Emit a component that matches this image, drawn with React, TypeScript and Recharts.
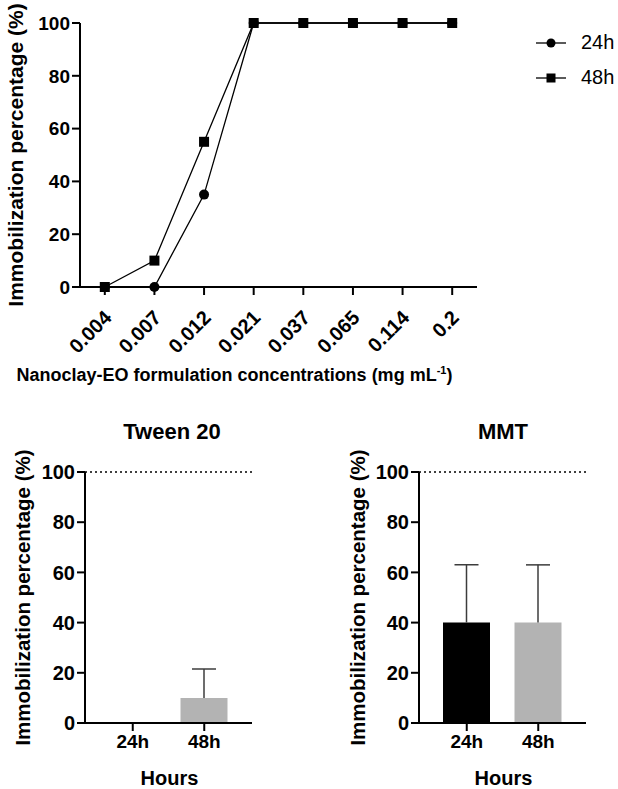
import React from 'react';
import {
  LineChart,
  Line,
  BarChart,
  Bar,
  XAxis,
  YAxis,
  Legend,
  ReferenceLine,
  Cell,
  Label,
} from 'recharts';

const FONT = '"Liberation Sans", Arial, Helvetica, sans-serif';
const INK = '#000000';
const GREY = '#b3b3b3';
const ERR = '#3c3c3c';

// top panel: immobilization vs. nanoclay-EO concentration
const concentrations = ['0.004', '0.007', '0.012', '0.021', '0.037', '0.065', '0.114', '0.2'];
const immob24h = [0, 0, 35, 100, 100, 100, 100, 100];
const immob48h = [0, 10, 55, 100, 100, 100, 100, 100];
const yTicks = [0, 20, 40, 60, 80, 100];

// bottom panels: controls
const hours = ['24h', '48h'];
const tweenMean = [0, 10];
const tweenSd = [0, 11.5];
const mmtMean = [40, 40];
const mmtSd = [23, 23];
const barFills = [INK, GREY];

const Y_TITLE = 'Immobilization percentage (%)';

const lineData = concentrations.map((c, i) => ({ conc: c, h24: immob24h[i], h48: immob48h[i] }));

const tickStyle = (size: number) => ({ fill: INK, fontSize: size, fontWeight: 700, fontFamily: FONT });
const axisStroke = { stroke: INK, strokeWidth: 2 };

function ConcTick({ x, y, payload }: any) {
  return (
    <g transform={`translate(${x + 8},${y + 22})`}>
      <text
        textAnchor="end"
        transform="rotate(-45)"
        fontFamily={FONT}
        fontWeight={700}
        fontSize={20}
        fill={INK}
      >
        {payload.value}
      </text>
    </g>
  );
}

// rotated y-axis title, cx is the distance from the axis box's left edge
const yTitle = (cx: number, size: number) => (props: any) => {
  const { x, y, height } = props.viewBox;
  const px = x + cx;
  const py = y + height / 2;
  return (
    <text
      x={px}
      y={py}
      transform={`rotate(-90 ${px} ${py})`}
      textAnchor="middle"
      dominantBaseline="central"
      fontFamily={FONT}
      fontWeight={700}
      fontSize={size}
      fill={INK}
    >
      {Y_TITLE}
    </text>
  );
};

const concTitle = (props: any) => {
  const { x, y, width } = props.viewBox;
  return (
    <text
      x={x + width / 2 - 44}
      y={y + 94}
      textAnchor="middle"
      fontFamily={FONT}
      fontWeight={700}
      fontSize={18}
      fill={INK}
    >
      Nanoclay-EO formulation concentrations (mg mL
      <tspan dy={-7} fontSize={11}>-1</tspan>
      <tspan dy={7}>)</tspan>
    </text>
  );
};

const hoursTitle = (props: any) => {
  const { x, y, width } = props.viewBox;
  return (
    <text
      x={x + width / 2 + 1}
      y={y + 62}
      textAnchor="middle"
      fontFamily={FONT}
      fontWeight={700}
      fontSize={20}
      fill={INK}
    >
      Hours
    </text>
  );
};

function Marker({ kind }: { kind: string }) {
  return (
    <svg width={30} height={14} style={{ display: 'block' }}>
      <line x1={0} y1={7} x2={30} y2={7} stroke={INK} strokeWidth={1.3} />
      {kind === 'circle' ? (
        <circle cx={15} cy={7} r={4.5} fill={INK} />
      ) : (
        <rect x={10.5} y={2.5} width={9} height={9} fill={INK} />
      )}
    </svg>
  );
}

function SeriesLegend({ payload }: any) {
  return (
    <div style={{ fontFamily: FONT, fontSize: 20, color: INK }}>
      {(payload || []).map((p: any) => (
        <div key={p.value} style={{ display: 'flex', alignItems: 'center', height: 35 }}>
          <Marker kind={p.dataKey === 'h24' ? 'circle' : 'square'} />
          <span style={{ marginLeft: 15 }}>{p.value}</span>
        </div>
      ))}
    </div>
  );
}

const squareDot = (p: any) => (
  <rect key={`sq-${p.index}`} x={p.cx - 5} y={p.cy - 5} width={10} height={10} fill={INK} />
);

// upper error whisker: drawn as a stacked segment sitting on the mean bar
const whisker = (p: any) => {
  const { x, y, width, height } = p;
  if (!height) return <g />;
  const cx = x + width / 2;
  return (
    <g stroke={ERR} strokeWidth={1.5}>
      <line x1={cx} x2={cx} y1={y} y2={y + height} />
      <line x1={cx - 12} x2={cx + 12} y1={y} y2={y} />
    </g>
  );
};

function ConcentrationChart() {
  return (
    <LineChart width={618} height={395} data={lineData} margin={{ top: 23, right: 141, left: 0, bottom: 0 }}>
      <XAxis
        dataKey="conc"
        height={108}
        padding={{ left: 24.8, right: 24.8 }}
        axisLine={axisStroke}
        tickLine={axisStroke}
        tickSize={8}
        tick={<ConcTick />}
        interval={0}
      >
        <Label content={concTitle} />
      </XAxis>
      <YAxis
        width={80}
        domain={[0, 100]}
        ticks={yTicks}
        axisLine={axisStroke}
        tickLine={axisStroke}
        tickSize={8}
        tickMargin={2}
        tick={tickStyle(19)}
      >
        <Label content={yTitle(15, 21)} />
      </YAxis>
      {/* vertical + center + middle keeps the legend out of the plot offset */}
      <Legend
        layout="vertical"
        verticalAlign="middle"
        align="center"
        content={<SeriesLegend />}
        wrapperStyle={{ position: 'absolute', left: 536, top: 25, width: 82 }}
      />
      <Line
        dataKey="h24"
        name="24h"
        type="linear"
        stroke={INK}
        strokeWidth={1.3}
        dot={{ r: 5, fill: INK, stroke: 'none' }}
        isAnimationActive={false}
      />
      <Line
        dataKey="h48"
        name="48h"
        type="linear"
        stroke={INK}
        strokeWidth={1.3}
        dot={squareDot}
        isAnimationActive={false}
      />
    </LineChart>
  );
}

function ControlChart({ means, sds, yTitleX, left }: { means: number[]; sds: number[]; yTitleX: number; left: number }) {
  const data = hours.map((h, i) => ({ hour: h, mean: means[i], sd: sds[i] }));
  return (
    <BarChart
      width={309}
      height={389}
      data={data}
      barSize={47}
      margin={{ top: 72, right: 309 - left - 85 - 167, left, bottom: 0 }}
    >
      <XAxis
        dataKey="hour"
        height={66}
        padding={{ left: 12, right: 12 }}
        axisLine={axisStroke}
        tickLine={axisStroke}
        tickSize={8}
        tickMargin={4}
        tick={tickStyle(19)}
      >
        <Label content={hoursTitle} />
      </XAxis>
      <YAxis
        width={85}
        domain={[0, 100]}
        ticks={yTicks}
        allowDataOverflow
        axisLine={axisStroke}
        tickLine={axisStroke}
        tickSize={8}
        tickMargin={2}
        tick={tickStyle(20)}
      >
        <Label content={yTitle(yTitleX, 20.5)} />
      </YAxis>
      <ReferenceLine y={100} stroke={INK} strokeWidth={1.6} strokeDasharray="2 3" />
      <Bar dataKey="mean" stackId="m" isAnimationActive={false}>
        {data.map((_, i) => (
          <Cell key={i} fill={barFills[i]} />
        ))}
      </Bar>
      <Bar dataKey="sd" stackId="m" shape={whisker} isAnimationActive={false} />
    </BarChart>
  );
}

const titleStyle = (cx: number): React.CSSProperties => ({
  position: 'absolute',
  left: cx - 100,
  top: 418,
  width: 200,
  textAlign: 'center',
  fontFamily: FONT,
  fontWeight: 700,
  fontSize: 22,
  lineHeight: '28px',
  color: INK,
});

export default function App() {
  return (
    <div style={{ position: 'absolute', left: 0, top: 0, width: 618, height: 789, background: '#fff' }}>
      <div style={{ position: 'absolute', left: 0, top: 0 }}>
        <ConcentrationChart />
      </div>
      <div style={titleStyle(172)}>Tween 20</div>
      <div style={titleStyle(503)}>MMT</div>
      <div style={{ position: 'absolute', left: 0, top: 400 }}>
        <ControlChart means={tweenMean} sds={tweenSd} yTitleX={22} left={0} />
      </div>
      <div style={{ position: 'absolute', left: 309, top: 400 }}>
        <ControlChart means={mmtMean} sds={mmtSd} yTitleX={23} left={25} />
      </div>
    </div>
  );
}
